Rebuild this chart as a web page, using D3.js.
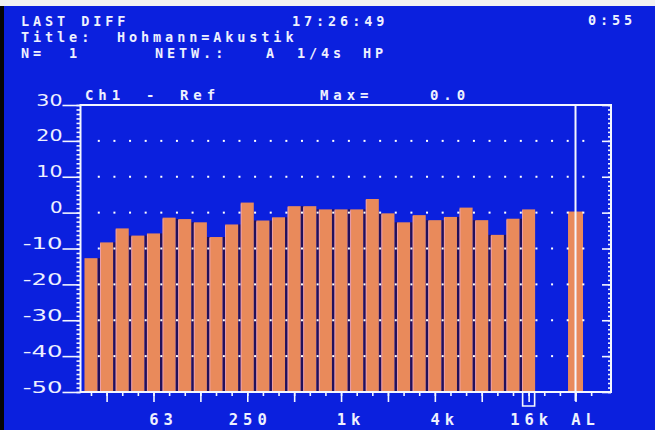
<!DOCTYPE html>
<html>
<head>
<meta charset="utf-8">
<script src="https://cdn.jsdelivr.net/npm/d3@7"></script>
<style>
  html, body { margin: 0; padding: 0; background: #0b20de; }
  svg { display: block; }
  text { font-family: "DejaVu Sans Mono", monospace; fill: #eef0ff; }
</style>
</head>
<body>
<script>
// 1/3 octave bands shown as bars, 25 Hz .. 16 kHz
const bands = ["25", "31.5", "40", "50", "63", "80", "100", "125", "160", "200",
  "250", "315", "400", "500", "630", "800", "1k", "1.25k", "1.6k", "2k",
  "2.5k", "3.15k", "4k", "5k", "6.3k", "8k", "10k", "12.5k", "16k"];

// level difference per band, dB
const levels = [-12.7, -8.3, -4.4, -6.4, -5.8, -1.4, -1.8, -2.7, -6.8, -3.3,
  2.8, -2.2, -1.3, 1.8, 1.8, 0.9, 0.9, 0.9, 3.8, -0.2,
  -2.7, -0.7, -2.1, -1.2, 1.4, -2.1, -6.2, -1.7, 0.9];

// A-weighted overall level (AL bar)
const alLevel = 0.3;
const alSlot = 31;

// tick labels along the bottom (slot index -> text)
const xTickSlots = [4, 10, 16, 22, 28, 31];
const xTickLabels = ["63", "250", "1k", "4k", "16k", "AL"];

const yTicks = [30, 20, 10, 0, -10, -20, -30, -40, -50];
const gridLevels = [20, 10, 0, -10, -20, -30, -40];

const W = 655, H = 430;
const plotLeft = 80.5, plotRight = 611, plotTop = 105, plotBottom = 392;

const x = d3.scaleLinear().domain([-0.67, 33.27]).range([plotLeft, plotRight]);
const y = d3.scaleLinear().domain([-50, 30]).range([plotBottom, plotTop]);
const step = x(1) - x(0);
const barW = 13;

const svg = d3.select("body").append("svg")
  .attr("width", W)
  .attr("height", H);

svg.append("rect").attr("width", W).attr("height", H).attr("fill", "#0b20de");
svg.append("rect").attr("width", W).attr("height", 6).attr("fill", "#f2f2f2");
svg.append("rect").attr("y", 6).attr("width", 4).attr("height", H).attr("fill", "#050505");

// header text lines
const header = [
  {t: "LAST DIFF", x: 21, y: 26},
  {t: "17:26:49", x: 292, y: 26},
  {t: "0:55", x: 588, y: 25},
  {t: "Title:", x: 21, y: 42},
  {t: "Hohmann=Akustik", x: 117, y: 42},
  {t: "N=", x: 21, y: 58},
  {t: "1", x: 69, y: 58},
  {t: "NETW.:", x: 155, y: 58},
  {t: "A", x: 266, y: 58},
  {t: "1/4s", x: 297, y: 58},
  {t: "HP", x: 363, y: 58}
];
svg.selectAll("text.hdr")
  .data(header)
  .enter()
  .append("text")
  .attr("class", "hdr")
  .attr("x", d => d.x)
  .attr("y", d => d.y)
  .attr("font-size", 13.5)
  .attr("font-weight", "bold")
  .attr("letter-spacing", 3.9)
  .text(d => d.t);

const sub = [
  {t: "Ch1", x: 85}, {t: "-", x: 146}, {t: "Ref", x: 180},
  {t: "Max=", x: 320}, {t: "0.0", x: 430}
];
svg.selectAll("text.sub")
  .data(sub)
  .enter()
  .append("text")
  .attr("class", "sub")
  .attr("x", d => d.x)
  .attr("y", 100)
  .attr("font-size", 14)
  .attr("font-weight", "bold")
  .attr("letter-spacing", 4.9)
  .text(d => d.t);

// bars
const bars = bands.map((b, i) => ({slot: i, v: levels[i]}));

// dark gaps between neighbouring bars
const gaps = bars.slice(0, -1).map((d, i) => ({slot: i + 0.5, v: Math.min(d.v, bars[i + 1].v)}));
svg.selectAll("rect.gap")
  .data(gaps)
  .enter()
  .append("rect")
  .attr("class", "gap")
  .attr("x", d => x(d.slot) - (step - barW) / 2)
  .attr("y", d => y(d.v))
  .attr("width", step - barW)
  .attr("height", d => y(-50) - y(d.v))
  .attr("fill", "#22105a");

svg.selectAll("rect.bar")
  .data(bars)
  .enter()
  .append("rect")
  .attr("class", "bar")
  .attr("x", d => x(d.slot) - barW / 2)
  .attr("y", d => y(d.v))
  .attr("width", barW)
  .attr("height", d => y(-50) - y(d.v))
  .attr("fill", "#e98a5b");

// pinkish left edge of each bar
svg.selectAll("line.edge")
  .data(bars.slice(1))
  .enter()
  .append("line")
  .attr("class", "edge")
  .attr("x1", d => x(d.slot) - barW / 2 + 0.4)
  .attr("x2", d => x(d.slot) - barW / 2 + 0.4)
  .attr("y1", d => y(d.v) + 1)
  .attr("y2", y(-50))
  .attr("stroke", "#f0a6bd")
  .attr("stroke-width", 0.8);

// AL bar
svg.append("rect")
  .attr("x", x(alSlot) - 7.5)
  .attr("y", y(alLevel))
  .attr("width", 15)
  .attr("height", y(-50) - y(alLevel))
  .attr("fill", "#e98a5b");

// dotted grid at band boundaries
const dotSlots = d3.range(0.5, 32, 1);
gridLevels.forEach(v => {
  svg.selectAll(null)
    .data(dotSlots)
    .enter()
    .append("rect")
    .attr("x", d => x(d) - 1)
    .attr("y", y(v) - 1)
    .attr("width", 2)
    .attr("height", 2)
    .attr("fill", "#ffffff");
});

// axes
const axisColor = "#f4f6ff";
function styleAxis(g) {
  g.select(".domain").remove();
  g.selectAll(".tick line").attr("stroke", axisColor).attr("stroke-width", 1.6);
}

// left: minor and major ticks
svg.append("g")
  .attr("transform", `translate(${plotLeft},0)`)
  .call(d3.axisLeft(y).tickValues(d3.range(-50, 30.01, 1.25)).tickSize(4).tickFormat(""))
  .call(styleAxis);

svg.append("g")
  .attr("transform", `translate(${plotLeft},0)`)
  .call(d3.axisLeft(y).tickValues(yTicks).tickSize(18).tickFormat(d => d))
  .call(styleAxis)
  .call(g => g.selectAll(".tick text")
    .attr("x", -18)
    .attr("dy", 0)
    .attr("font-size", 15.5)
    .attr("textLength", function() { return this.textContent.length * 13.6 - 1; })
    .attr("lengthAdjust", "spacingAndGlyphs")
    .attr("fill", "#eef0ff")
    .style("font-family", "'DejaVu Sans', sans-serif"));

// right: ticks pointing inward
svg.append("g")
  .attr("transform", `translate(${plotRight},0)`)
  .call(d3.axisLeft(y).tickValues(d3.range(-50, 30.01, 1.25)).tickSize(3).tickFormat(""))
  .call(styleAxis);
svg.append("g")
  .attr("transform", `translate(${plotRight},0)`)
  .call(d3.axisLeft(y).tickValues(yTicks).tickSize(9).tickFormat(""))
  .call(styleAxis);

// bottom: tick per band, longer each octave
svg.append("g")
  .attr("transform", `translate(0,${plotBottom})`)
  .call(d3.axisBottom(x).tickValues(d3.range(0, 33)).tickSize(4).tickFormat(""))
  .call(styleAxis);
svg.append("g")
  .attr("transform", `translate(0,${plotBottom})`)
  .call(d3.axisBottom(x).tickValues(d3.range(1, 33, 3)).tickSize(10).tickFormat(""))
  .call(styleAxis);
svg.append("g")
  .attr("transform", `translate(0,${plotBottom})`)
  .call(d3.axisBottom(x).tickValues(xTickSlots).tickSize(0)
    .tickFormat((d, i) => xTickLabels[i]))
  .call(g => g.select(".domain").remove())
  .call(g => g.selectAll(".tick text")
    .attr("y", 33)
    .attr("dy", 0)
    .attr("dx", function() { return (this.textContent.length % 2 === 0 ? 7 : 0) + 2.5; })
    .attr("font-size", 15.5)
    .attr("font-weight", "bold")
    .attr("letter-spacing", 5)
    .attr("fill", "#eef0ff")
    .style("font-family", "'DejaVu Sans Mono', monospace"));

// frame
svg.append("rect")
  .attr("x", plotLeft)
  .attr("y", plotTop)
  .attr("width", plotRight - plotLeft)
  .attr("height", plotBottom - plotTop)
  .attr("fill", "none")
  .attr("stroke", axisColor)
  .attr("stroke-width", 2);

// AL separator line
svg.append("line")
  .attr("x1", x(alSlot)).attr("x2", x(alSlot))
  .attr("y1", plotTop).attr("y2", plotBottom + 9)
  .attr("stroke", axisColor)
  .attr("stroke-width", 2);

// cursor marker under 16k
const cx = x(bands.length - 1);
svg.append("path")
  .attr("d", `M${cx - 6},${plotBottom + 1} V${plotBottom + 14} H${cx + 6} V${plotBottom + 1}`)
  .attr("fill", "none")
  .attr("stroke", axisColor)
  .attr("stroke-width", 1.6);
</script>
</body>
</html>
